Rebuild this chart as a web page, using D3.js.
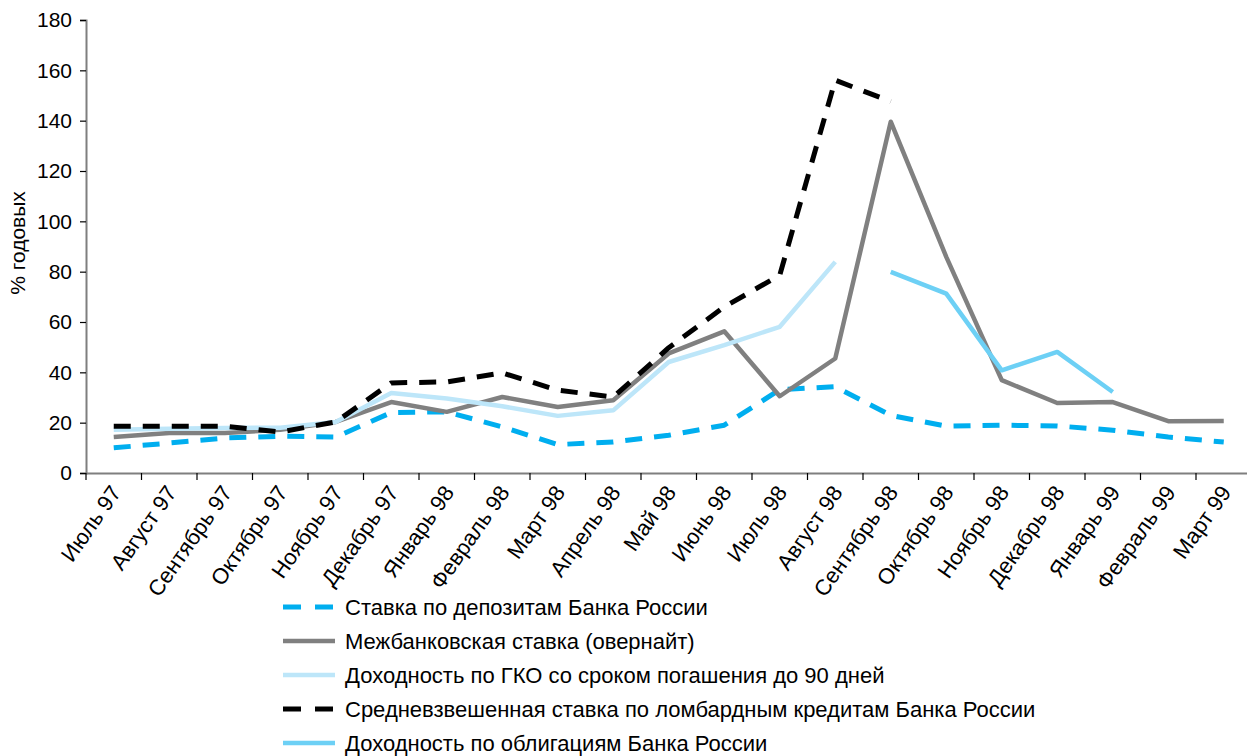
<!DOCTYPE html>
<html>
<head>
<meta charset="utf-8">
<script src="https://cdn.jsdelivr.net/npm/d3@7"></script>
<style>
  body { margin: 0; background: #fff; }
  svg { display: block; font-family: "Liberation Sans", Arial, sans-serif; }
</style>
</head>
<body>
<svg id="chart" width="1247" height="756"></svg>
<script>
// months on the x axis
let months = ['Июль 97', 'Август 97', 'Сентябрь 97', 'Октябрь 97', 'Ноябрь 97', 'Декабрь 97',
    'Январь 98', 'Февраль 98', 'Март 98', 'Апрель 98', 'Май 98', 'Июнь 98', 'Июль 98',
    'Август 98', 'Сентябрь 98', 'Октябрь 98', 'Ноябрь 98', 'Декабрь 98', 'Январь 99',
    'Февраль 99', 'Март 99'];

let yTicks = [0, 20, 40, 60, 80, 100, 120, 140, 160, 180];

// null = no value for that month
let deposit = [10, 11.9, 13.9, 14.6, 14.3, 24, 24.3, 18.3, 11.3, 12.3, 15, 19, 33.1, 34.3,
    22.9, 18.6, 19, 18.7, 17, 14.3, 12.3];
let interbank = [14.3, 15.9, 15.9, 17.2, 20.3, 28.2, 24.3, 30.2, 26.2, 28.9, 47.5, 56.3, 30.5, 45.5,
    139.6, 85.9, 36.9, 27.8, 28.2, 20.6, 20.7];
let gko = [17.2, 17.6, 17.9, 18, 20.3, 31.8, 29.6, 26.5, 22.7, 24.9, 44.1, 50.8, 58.1, 83.9,
    null, null, null, null, null, null, null];
let lombard = [18.6, 18.6, 18.6, 16.3, 20.3, 35.8, 36.2, 39.8, 32.9, 30.2, 49.8, 66, 78.6, 156.1,
    147.6, null, null, null, null, null, null];
let bonds = [null, null, null, null, null, null, null, null, null, null, null, null, null, null,
    79.9, 71.3, 40.8, 48.1, 32.2, null, null];

let seriesNames = [
    'Ставка по депозитам Банка России',
    'Межбанковская ставка (овернайт)',
    'Доходность по ГКО со сроком погашения до 90 дней',
    'Средневзвешенная ставка по ломбардным кредитам Банка России',
    'Доходность по облигациям Банка России',
];

let series = [
    {name: seriesNames[0], values: deposit, color: '#00aeef', width: 5, dash: '17,12'},
    {name: seriesNames[1], values: interbank, color: '#808080', width: 4.5, dash: null},
    {name: seriesNames[2], values: gko, color: '#bde6f9', width: 4.5, dash: null},
    {name: seriesNames[3], values: lombard, color: '#000000', width: 5, dash: '17,12'},
    {name: seriesNames[4], values: bonds, color: '#6dd0f5', width: 4.5, dash: null},
];

let svg = d3.select('#chart');
let plotLeft = 86, plotTop = 20, plotBottom = 473, plotRight = 1251.5;

let x = d3.scaleBand().domain(months).range([plotLeft, plotRight]);
let y = d3.scaleLinear().domain([0, 180]).range([plotBottom, plotTop]);
let cx = m => x(m) + x.bandwidth() / 2;

let axisColor = '#7f7f7f';

// y axis
let yAxis = svg.append('g')
    .attr('transform', `translate(${plotLeft},0)`)
    .call(d3.axisLeft(y).tickValues(yTicks).tickSize(6).tickPadding(8));
yAxis.select('.domain').attr('stroke', axisColor).attr('stroke-width', 2);
yAxis.selectAll('.tick line').attr('stroke', '#000').attr('stroke-width', 1.2);
yAxis.selectAll('.tick text').attr('font-size', 21).attr('fill', '#000')
    .attr('font-family', '"Liberation Sans", Arial, sans-serif');

// x axis
let xAxis = svg.append('g')
    .attr('transform', `translate(0,${plotBottom})`)
    .call(d3.axisBottom(x).tickSize(0).tickFormat(''));
xAxis.select('.domain').attr('stroke', axisColor).attr('stroke-width', 2);

// tick marks at band boundaries
svg.append('g').selectAll('line')
    .data(months)
    .enter().append('line')
    .attr('x1', d => x(d)).attr('x2', d => x(d))
    .attr('y1', plotBottom).attr('y2', plotBottom + 7)
    .attr('stroke', '#000').attr('stroke-width', 1.2);

svg.append('g').selectAll('text')
    .data(months)
    .enter().append('text')
    .attr('transform', d => `translate(${cx(d) + 2},${plotBottom + 15}) rotate(-55)`)
    .attr('text-anchor', 'end')
    .attr('dy', '0.35em')
    .attr('font-size', 22)
    .attr('fill', '#000')
    .text(d => d);

// y axis title
svg.append('text')
    .attr('transform', 'translate(25,243) rotate(-90)')
    .attr('text-anchor', 'middle')
    .attr('font-size', 21)
    .attr('fill', '#000')
    .text('% годовых');

// lines
let line = d3.line()
    .defined(d => d != null)
    .x((d, i) => cx(months[i]))
    .y(d => y(d));

svg.append('g').selectAll('path')
    .data(series)
    .enter().append('path')
    .attr('d', s => line(s.values))
    .attr('fill', 'none')
    .attr('stroke', s => s.color)
    .attr('stroke-width', s => s.width)
    .attr('stroke-dasharray', s => s.dash)
    .attr('stroke-linejoin', 'round');

// legend
let legend = svg.append('g').selectAll('g')
    .data(series)
    .enter().append('g')
    .attr('transform', (s, i) => `translate(283,${607 + i * 34})`);

legend.append('line')
    .attr('x1', 0).attr('x2', 52)
    .attr('stroke', s => s.color)
    .attr('stroke-width', s => s.width)
    .attr('stroke-dasharray', s => s.dash ? '18,14' : null);

legend.append('text')
    .attr('x', 62)
    .attr('dy', '0.35em')
    .attr('font-size', 22)
    .attr('fill', '#000')
    .text(s => s.name);
</script>
</body>
</html>
